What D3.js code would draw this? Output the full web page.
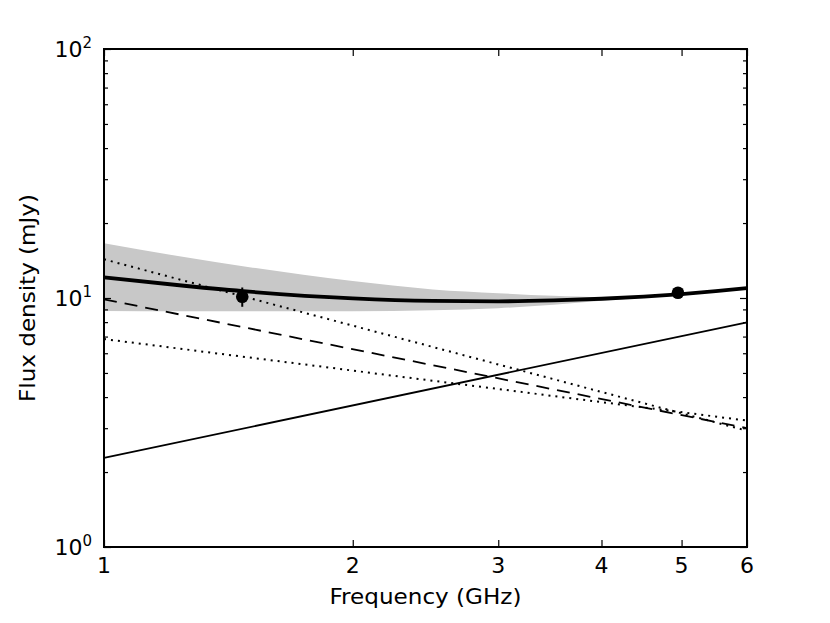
<!DOCTYPE html>
<html>
<head>
<meta charset="utf-8">
<script src="https://cdn.jsdelivr.net/npm/d3@7"></script>
<style>
    body { margin: 0; background: #fff; }
    text { font-family: "DejaVu Sans", sans-serif; fill: #000; }
</style>
</head>
<body>
<svg id="sed-svg" width="830" height="623"></svg>
<script>
// Frequencies (GHz) used for the model curve and the shaded band
const bandFreqs = [1, 1.25, 1.5, 2, 2.5, 3, 3.5, 4, 4.5, 5, 5.5, 6];
// Total model flux (mJy)
const totalFlux = [12.1, 11.2, 10.6, 9.97, 9.74, 9.7, 9.78, 9.93, 10.13, 10.37, 10.65, 10.95];
// Shaded band, upper and lower edge (mJy)
const bandHigh = [16.6, 14.6, 13.3, 11.7, 10.83, 10.46, 10.2, 10.08, 10.2, 10.4, 10.68, 10.98];
const bandLow = [8.87, 8.85, 8.85, 8.84, 8.92, 9.1, 9.4, 9.75, 10.05, 10.34, 10.6, 10.9];

// Power-law components, end points at 1 and 6 GHz (mJy)
const lineFreqs = [1, 6];
const risingFlux = [2.28, 7.99];
const dashedFlux = [9.88, 3.0];
const steepDottedFlux = [14.3, 2.93];
const flatDottedFlux = [6.84, 3.22];

// Measurements
const obsFreq = [1.47, 4.95];
const obsFlux = [10.12, 10.5];
const obsErr = [0.9, 0.3];

// Tick labels
const xTicks = [1, 2, 3, 4, 5, 6];
const yMajor = [1, 10, 100];
const yMinor = [2, 3, 4, 5, 6, 7, 8, 9, 20, 30, 40, 50, 60, 70, 80, 90];

const LEFT = 104, RIGHT = 747, TOP = 49, BOTTOM = 547;

const svg = d3.select('#sed-svg');

const xScale = d3.scaleLog()
.domain([1, 6])
.range([LEFT, RIGHT]);

const yScale = d3.scaleLog()
.domain([1, 100])
.range([BOTTOM, TOP]);

// Grey band
const band = bandFreqs.map((f, i) => ({f: f, lo: bandLow[i], hi: bandHigh[i]}));
svg.append('path')
.datum(band)
.attr('d', d3.area()
    .x(d => xScale(d.f))
    .y0(d => yScale(d.lo))
    .y1(d => yScale(d.hi))
    .curve(d3.curveMonotoneX))
.attr('fill', '#c8c8c8')
.attr('stroke', 'none');

// Straight power laws
const line = d3.line()
.x(d => xScale(d[0]))
.y(d => yScale(d[1]));

const components = [
    {flux: risingFlux, dash: null, width: 1.8},
    {flux: dashedFlux, dash: '13,8', width: 1.8},
    {flux: steepDottedFlux, dash: '2,5', width: 2},
    {flux: flatDottedFlux, dash: '2,5', width: 2}
];

svg.append('g')
.selectAll('path')
.data(components)
.join('path')
.attr('d', c => line(lineFreqs.map((f, i) => [f, c.flux[i]])))
.attr('fill', 'none')
.attr('stroke', '#000')
.attr('stroke-width', c => c.width)
.attr('stroke-dasharray', c => c.dash);

// Thick total curve
svg.append('path')
.datum(bandFreqs.map((f, i) => [f, totalFlux[i]]))
.attr('d', d3.line()
    .x(d => xScale(d[0]))
    .y(d => yScale(d[1]))
    .curve(d3.curveMonotoneX))
.attr('fill', 'none')
.attr('stroke', '#000')
.attr('stroke-width', 3.8);

// Data points with error bars
const points = obsFreq.map((f, i) => ({f: f, s: obsFlux[i], e: obsErr[i]}));
svg.append('g')
.selectAll('line')
.data(points)
.join('line')
.attr('x1', d => xScale(d.f))
.attr('x2', d => xScale(d.f))
.attr('y1', d => yScale(d.s - d.e))
.attr('y2', d => yScale(d.s + d.e))
.attr('stroke', '#000')
.attr('stroke-width', 2);

svg.append('g')
.selectAll('circle')
.data(points)
.join('circle')
.attr('cx', d => xScale(d.f))
.attr('cy', d => yScale(d.s))
.attr('r', 6.3)
.attr('fill', '#000');

// Ticks pointing inwards on all four sides
const xAxisBottom = d3.axisBottom(xScale).tickValues(xTicks).tickSizeInner(-7).tickSizeOuter(0).tickFormat('');
const xAxisTop = d3.axisTop(xScale).tickValues(xTicks).tickSizeInner(-7).tickSizeOuter(0).tickFormat('');
svg.append('g').attr('transform', `translate(0,${BOTTOM})`).call(xAxisBottom);
svg.append('g').attr('transform', `translate(0,${TOP})`).call(xAxisTop);

const yLeftMajor = d3.axisLeft(yScale).tickValues(yMajor).tickSizeInner(-7).tickSizeOuter(0).tickFormat('');
const yLeftMinor = d3.axisLeft(yScale).tickValues(yMinor).tickSizeInner(-4).tickSizeOuter(0).tickFormat('');
const yRightMajor = d3.axisRight(yScale).tickValues(yMajor).tickSizeInner(-7).tickSizeOuter(0).tickFormat('');
const yRightMinor = d3.axisRight(yScale).tickValues(yMinor).tickSizeInner(-4).tickSizeOuter(0).tickFormat('');
svg.append('g').attr('transform', `translate(${LEFT},0)`).call(yLeftMajor);
svg.append('g').attr('transform', `translate(${LEFT},0)`).call(yLeftMinor);
svg.append('g').attr('transform', `translate(${RIGHT},0)`).call(yRightMajor);
svg.append('g').attr('transform', `translate(${RIGHT},0)`).call(yRightMinor);

svg.selectAll('.domain').remove();
svg.selectAll('.tick line').attr('stroke', '#000').attr('stroke-width', 1.2);

// Frame
svg.append('rect')
.attr('x', LEFT)
.attr('y', TOP)
.attr('width', RIGHT - LEFT)
.attr('height', BOTTOM - TOP)
.attr('fill', 'none')
.attr('stroke', '#000')
.attr('stroke-width', 2);

// X tick labels
svg.append('g')
.selectAll('text')
.data(xTicks)
.join('text')
.attr('x', d => xScale(d))
.attr('y', BOTTOM + 26)
.attr('text-anchor', 'middle')
.attr('font-size', 22)
.text(d => d);

// Y tick labels as 10^n
const yLabels = svg.append('g')
.selectAll('text')
.data(yMajor)
.join('text')
.attr('x', 92)
.attr('y', d => yScale(d) + 8)
.attr('text-anchor', 'end')
.attr('font-size', 22);
yLabels.append('tspan').text('10');
yLabels.append('tspan')
.attr('font-size', 15)
.attr('dy', -9)
.text(d => Math.round(Math.log10(d)));

// Axis titles
svg.append('text')
.attr('x', (LEFT + RIGHT) / 2)
.attr('y', 604)
.attr('text-anchor', 'middle')
.attr('font-size', 21)
.attr('textLength', 192)
.attr('lengthAdjust', 'spacingAndGlyphs')
.text('Frequency (GHz)');

svg.append('text')
.attr('transform', `translate(35, ${(TOP + BOTTOM) / 2}) rotate(270)`)
.attr('text-anchor', 'middle')
.attr('font-size', 21)
.attr('textLength', 208)
.attr('lengthAdjust', 'spacingAndGlyphs')
.text('Flux density (mJy)');
</script>
</body>
</html>
